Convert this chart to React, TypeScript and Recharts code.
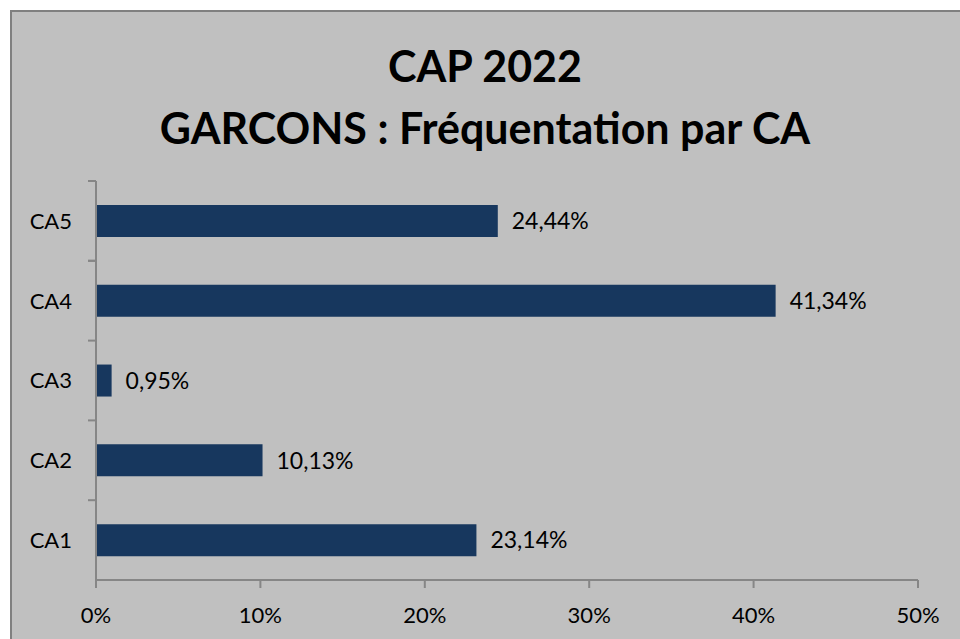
import React from 'react';
import { BarChart, Bar, XAxis, YAxis, LabelList } from 'recharts';

const categories = ['CA1', 'CA2', 'CA3', 'CA4', 'CA5'];
const values = [23.14, 10.13, 0.95, 41.34, 24.44];
const xTicks = [0, 10, 20, 30, 40, 50];
const titleLines = ['CAP 2022', 'GARCONS : Fréquentation par CA'];

const data = categories.map((c, i) => ({ name: c, value: values[i] }));

const FONT = 'Lato, "Open Sans", sans-serif';
const AXIS = '#868686';
const Y_TICK_SIZE = 8;
const Y_TICK_MARGIN = 16;

function CategoryTick(props: any) {
  const { x, y, payload, index, visibleTicksCount } = props;
  const axisX = x + Y_TICK_SIZE + Y_TICK_MARGIN;
  const half = payload && payload.offset ? payload.offset : 0;
  return (
    <g>
      <line x1={axisX - 8} x2={axisX} y1={y - half} y2={y - half} stroke={AXIS} strokeWidth={2} />
      {index === visibleTicksCount - 1 ? (
        <line x1={axisX - 8} x2={axisX} y1={y + half} y2={y + half} stroke={AXIS} strokeWidth={2} />
      ) : null}
      <text x={x} y={y} dy="0.355em" textAnchor="end" fill="#000" fontSize={22} fontFamily={FONT}>
        {payload.value}
      </text>
    </g>
  );
}

export default function App() {
  return (
    <div style={{ position: 'absolute', left: 0, top: 0, width: 960, height: 639, background: '#ffffff', overflow: 'hidden' }}>
      <div
        style={{
          position: 'absolute',
          left: 10,
          top: 10,
          width: 960,
          height: 640,
          background: '#c0c0c0',
          borderTop: '2px solid #808080',
          borderLeft: '2px solid #808080',
          fontFamily: FONT,
        }}
      >
        {titleLines.map((t, i) => (
          <div
            key={t}
            style={{
              position: 'absolute',
              left: 0,
              width: 946,
              top: 29 + i * 62,
              textAlign: 'center',
              fontWeight: 700,
              fontSize: 43,
              lineHeight: '50px',
              color: '#000',
              whiteSpace: 'nowrap',
            }}
          >
            {t}
          </div>
        ))}
        <div style={{ position: 'absolute', left: 0, top: 0 }}>
          <BarChart
            width={948}
            height={627}
            data={data}
            layout="vertical"
            margin={{ top: 169, right: 42, left: 0, bottom: 19 }}
            barCategoryGap="30%"
          >
            <XAxis
              type="number"
              domain={[0, 50]}
              ticks={xTicks}
              tickFormatter={(v: number) => `${v}%`}
              axisLine={{ stroke: AXIS, strokeWidth: 2 }}
              tickLine={{ stroke: AXIS, strokeWidth: 2 }}
              tickSize={8}
              tickMargin={19}
              height={40}
              tick={{ fill: '#000', fontSize: 22, fontFamily: FONT }}
              interval={0}
            />
            <YAxis
              type="category"
              dataKey="name"
              reversed
              width={84}
              axisLine={{ stroke: AXIS, strokeWidth: 2 }}
              tickLine={false}
              tickSize={Y_TICK_SIZE}
              tickMargin={Y_TICK_MARGIN}
              tick={<CategoryTick />}
              interval={0}
            />
            <Bar dataKey="value" fill="#17375e" isAnimationActive={false}>
              <LabelList
                dataKey="value"
                position="right"
                offset={14}
                formatter={(v: number) => `${v.toFixed(2).replace('.', ',')}%`}
                style={{ fill: '#000', fontSize: 23, fontFamily: FONT }}
              />
            </Bar>
          </BarChart>
        </div>
      </div>
    </div>
  );
}
